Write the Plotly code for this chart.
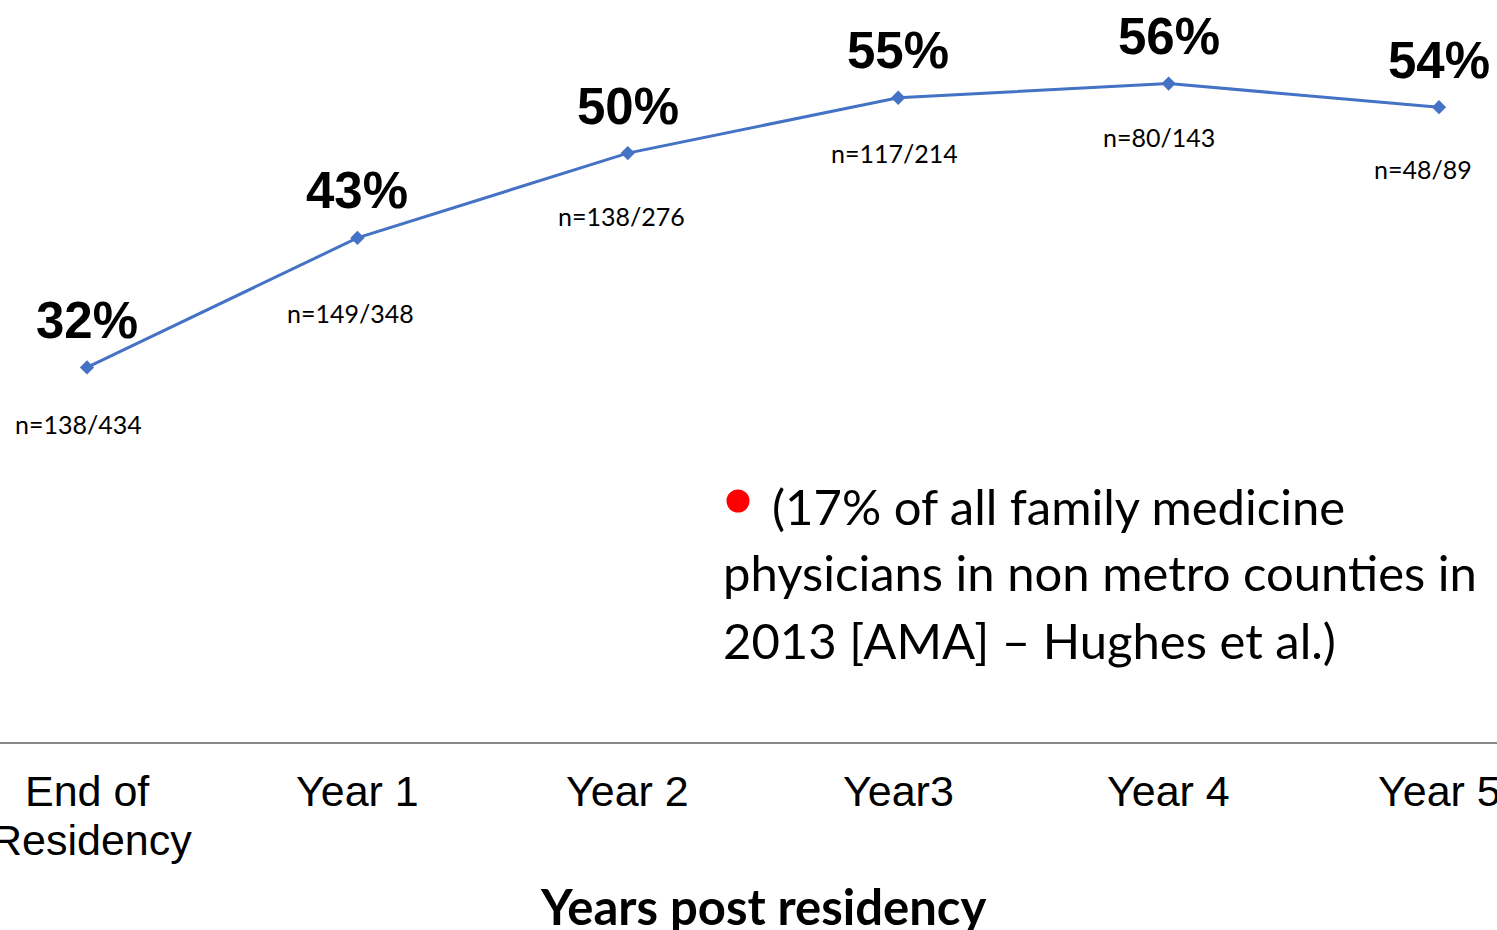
import plotly.graph_objects as go

# ---- data ----
categories = ["End of<br>Residency", "Year 1", "Year 2", "Year3", "Year 4", "Year 5"]
pct_values = [31.8, 42.8, 50.0, 54.7, 55.9, 53.9]
pct_labels = ["32%", "43%", "50%", "55%", "56%", "54%"]
n_labels = ["n=138/434", "n=149/348", "n=138/276", "n=117/214", "n=80/143", "n=48/89"]

# ---- label placement (pixel offsets, style only) ----
n_dx = [-9, -7, -6, -4, -10, -16]
n_dy = [-57, -75, -63, -55, -53, -62]

W, H = 1497, 930
plot_bottom = 742  # pixel row of axis line

def py(pix):
    return (plot_bottom - pix) / plot_bottom

def px(pix):
    return pix / W

fig = go.Figure()
fig.add_trace(go.Scatter(
    x=list(range(len(categories))), y=pct_values,
    mode="lines+markers",
    line=dict(color="#4472C4", width=3),
    marker=dict(symbol="diamond", size=11, color="#4472C4"),
    hoverinfo="skip",
))

annotations = []
for i, (v, lab) in enumerate(zip(pct_values, pct_labels)):
    annotations.append(dict(
        x=i, y=v, xref="x", yref="y", text=f"<b>{lab}</b>", showarrow=False,
        xanchor="center", yanchor="middle", yshift=47,
        font=dict(family="Arial, Liberation Sans", size=51, color="#000000"),
    ))
for i, (v, lab) in enumerate(zip(pct_values, n_labels)):
    annotations.append(dict(
        x=i, y=v, xref="x", yref="y", text=lab, showarrow=False,
        xanchor="center", yanchor="middle", xshift=n_dx[i], yshift=n_dy[i],
        font=dict(family="Lato, Noto Sans", size=25, color="#000000"),
    ))

# category labels drawn as annotations so that the clipped edge labels still show
tick_font = dict(family="Arial, Liberation Sans", size=43, color="#000000")
for i, cat in enumerate(categories):
    parts = cat.split("<br>")
    for j, part in enumerate(parts):
        annotations.append(dict(
            x=i, y=0, xref="x", yref="paper", text=part, showarrow=False,
            xanchor="center", yanchor="top", yshift=-23 - 49 * j,
            xshift=4 * j,
            font=tick_font,
        ))

note_lines = [
    ("(17% of all family medicine", 770, 524),
    ("physicians in non metro counties in", 721, 590),
    ("2013 [AMA] \u2013 Hughes et al.)", 721, 658),
]
note_size = 49
for txt, lx, base in note_lines:
    annotations.append(dict(
        x=px(lx), y=py(base - 0.36 * note_size), xref="paper", yref="paper",
        text=txt, showarrow=False, xanchor="left", yanchor="middle",
        font=dict(family="Lato, Noto Sans", size=note_size, color="#000000"),
    ))

annotations.append(dict(
    x=px(763), y=py(906), xref="paper", yref="paper",
    text="<b>Years post residency</b>", showarrow=False,
    xanchor="center", yanchor="middle",
    font=dict(family="Lato, Noto Sans", size=49, color="#000000"),
))

fig.update_layout(
    width=W, height=H,
    margin=dict(l=0, r=0, t=0, b=H - plot_bottom, pad=0),
    paper_bgcolor="white", plot_bgcolor="white",
    showlegend=False,
    annotations=annotations,
    shapes=[dict(
        type="circle", xref="paper", yref="paper",
        xsizemode="pixel", ysizemode="pixel",
        xanchor=px(738), yanchor=py(501),
        x0=-11.5, x1=11.5, y0=-11.5, y1=11.5,
        fillcolor="#FF0000", line=dict(width=0),
    )],
    xaxis=dict(
        range=[-87 / 270.4, (W - 87) / 270.4],
        showgrid=False, zeroline=False,
        showline=True, linecolor="#898989", linewidth=2,
        ticks="", showticklabels=False,
        fixedrange=True,
    ),
    yaxis=dict(
        range=[0, 63.0], visible=False, showgrid=False, zeroline=False,
        fixedrange=True,
    ),
)

fig.write_html("out.html", config={"displayModeBar": False})
